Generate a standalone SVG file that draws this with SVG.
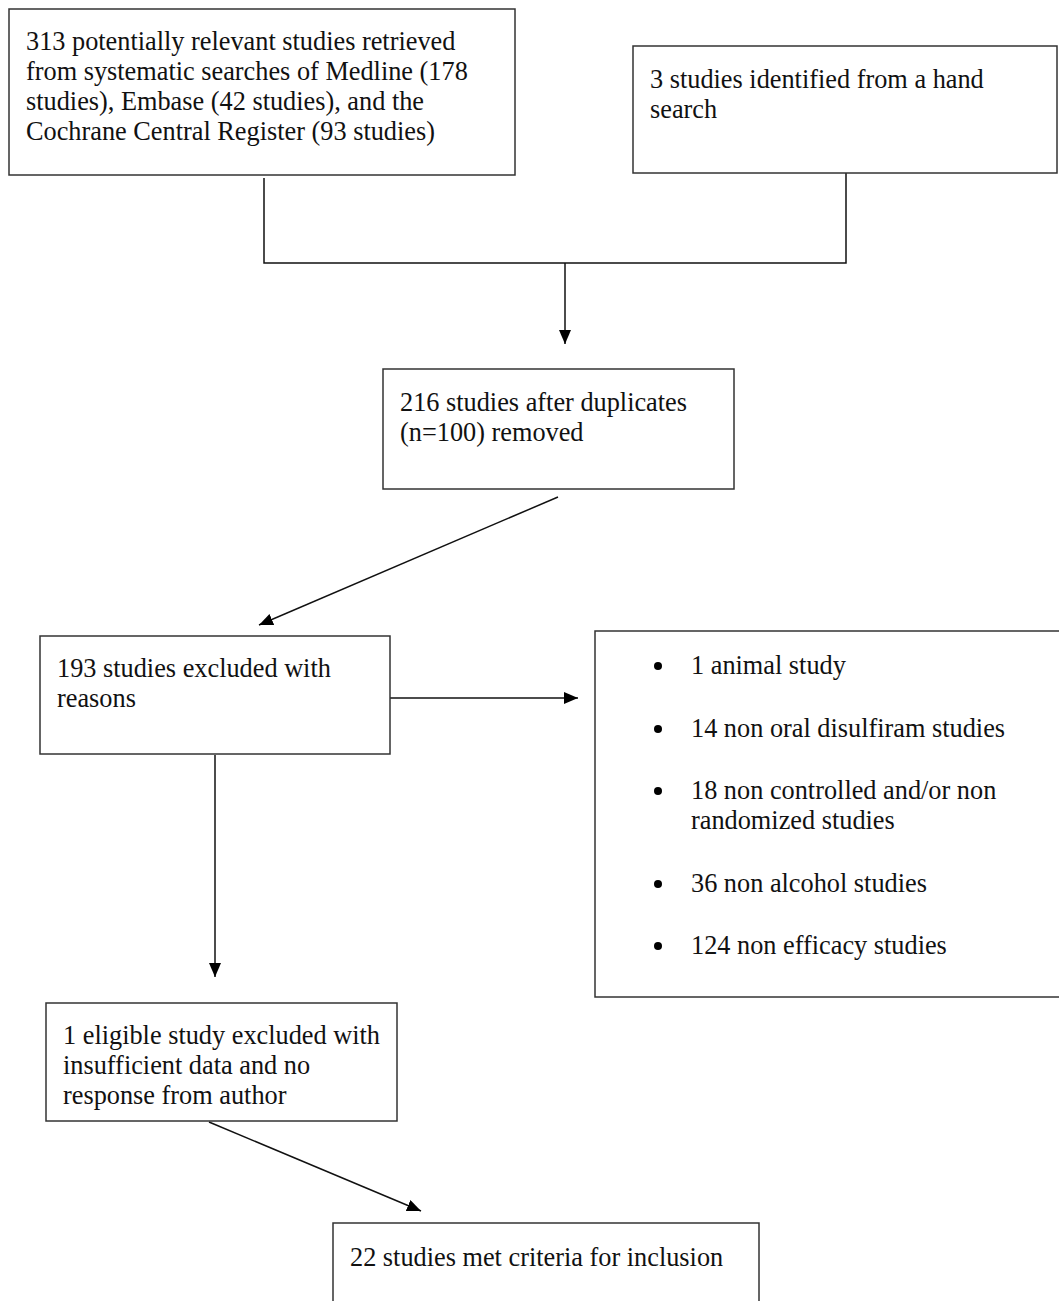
<svg xmlns="http://www.w3.org/2000/svg" width="1059" height="1301" viewBox="0 0 1059 1301">
<defs>
<marker id="ah" viewBox="0 0 14 12" refX="14" refY="6" markerWidth="14" markerHeight="12" markerUnits="userSpaceOnUse" orient="auto">
<path d="M0,0 L14,6 L0,12 z" fill="#000"/>
</marker>
</defs>
<style>
.box{fill:#fff;stroke:#333;stroke-width:1.5}
.t{font-family:"Liberation Serif","Times New Roman",serif;font-size:26.3px;fill:#111}
.c{stroke:#111;stroke-width:1.5;fill:none}
.a{stroke:#111;stroke-width:1.5;fill:none;marker-end:url(#ah)}
</style>
<rect width="1059" height="1301" fill="#fff"/>
<g id="connectors">
<path class="c" d="M264,178 V263 H846 V173"/>
<line class="a" x1="565" y1="263" x2="565" y2="344"/>
<line class="a" x1="558" y1="497" x2="259" y2="625"/>
<line class="a" x1="390" y1="698" x2="578" y2="698"/>
<line class="a" x1="215" y1="755" x2="215" y2="977"/>
<line class="a" x1="209" y1="1122" x2="421" y2="1211"/>
</g>
<g id="n1">
<rect class="box" x="9" y="9" width="506" height="166"/>
<text class="t" x="26" y="50">313 potentially relevant studies retrieved</text>
<text class="t" x="26" y="80">from systematic searches of Medline (178</text>
<text class="t" x="26" y="110">studies), Embase (42 studies), and the</text>
<text class="t" x="26" y="140">Cochrane Central Register (93 studies)</text>
</g>
<g id="n2">
<rect class="box" x="633" y="46" width="424" height="127"/>
<text class="t" x="650" y="88">3 studies identified from a hand</text>
<text class="t" x="650" y="118">search</text>
</g>
<g id="n3">
<rect class="box" x="383" y="369" width="351" height="120"/>
<text class="t" x="400" y="411">216 studies after duplicates</text>
<text class="t" x="400" y="441">(n=100) removed</text>
</g>
<g id="n4">
<rect class="box" x="40" y="636" width="350" height="118"/>
<text class="t" x="57" y="677">193 studies excluded with</text>
<text class="t" x="57" y="707">reasons</text>
</g>
<g id="n5">
<rect class="box" x="595" y="631" width="470" height="366"/>
<circle cx="658" cy="666" r="4" fill="#000"/>
<circle cx="658" cy="729" r="4" fill="#000"/>
<circle cx="658" cy="791" r="4" fill="#000"/>
<circle cx="658" cy="884" r="4" fill="#000"/>
<circle cx="658" cy="946" r="4" fill="#000"/>
<text class="t" x="691" y="674">1 animal study</text>
<text class="t" x="691" y="737">14 non oral disulfiram studies</text>
<text class="t" x="691" y="799">18 non controlled and/or non</text>
<text class="t" x="691" y="829">randomized studies</text>
<text class="t" x="691" y="892">36 non alcohol studies</text>
<text class="t" x="691" y="954">124 non efficacy studies</text>
</g>
<g id="n6">
<rect class="box" x="46" y="1003" width="351" height="118"/>
<text class="t" x="63" y="1044">1 eligible study excluded with</text>
<text class="t" x="63" y="1074">insufficient data and no</text>
<text class="t" x="63" y="1104">response from author</text>
</g>
<g id="n7">
<rect class="box" x="333" y="1223" width="426" height="100"/>
<text class="t" x="350" y="1266">22 studies met criteria for inclusion</text>
</g>
</svg>
